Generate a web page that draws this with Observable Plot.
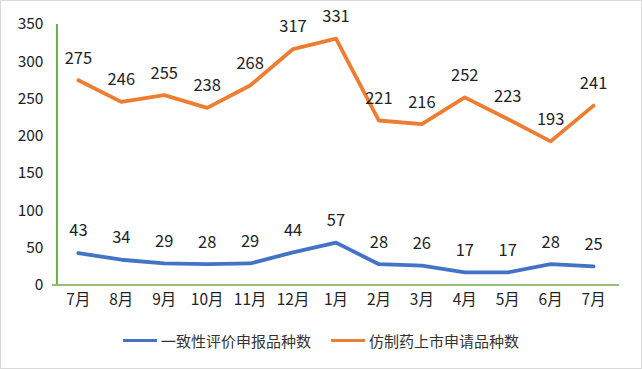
<!DOCTYPE html>
<html>
<head>
<meta charset="utf-8">
<script src="https://cdn.jsdelivr.net/npm/d3@7"></script>
<script src="https://cdn.jsdelivr.net/npm/@observablehq/plot@0.6"></script>
<style>
  body { margin: 0; background: #fff; font-family: "Noto Sans CJK SC", "Noto Sans", sans-serif; }
  #frame { position: relative; width: 640px; height: 367px; border: 1px solid #d9d9d9; overflow: hidden; }
  #chart { position: absolute; left: -1px; top: -1px; }
  #legend { position: absolute; left: 0; top: 329px; width: 640px; display: flex; justify-content: center; gap: 20px; font-size: 15px; color: #333; }
  .item { display: flex; align-items: center; gap: 4px; }
  .sw { width: 34px; height: 3.5px; display: inline-block; }
</style>
</head>
<body>
<div id="frame"><div id="chart"></div><div id="legend"></div></div>
<script>
const months = ["7月","8月","9月","10月","11月","12月","1月","2月","3月","4月","5月","6月","7月"];
const consistency = [43,34,29,28,29,44,57,28,26,17,17,28,25];
const generic = [275,246,255,238,268,317,331,221,216,252,223,193,241];
const seriesNames = ["一致性评价申报品种数","仿制药上市申请品种数"];
const colors = ["#4472c4","#ed7d31"];
const yTicks = [0,50,100,150,200,250,300,350];

const keys = months.map((m, i) => i + ":" + m);
const data = [];
[consistency, generic].forEach((arr, s) => arr.forEach((v, i) => data.push({key: keys[i], series: seriesNames[s], value: v})));

const plot = Plot.plot({
  width: 642,
  height: 320,
  marginTop: 24,
  marginBottom: 35,
  marginLeft: 52,
  marginRight: 22,
  style: {fontFamily: '"Noto Sans CJK SC", sans-serif', fontSize: "15.5px", color: "#222", background: "transparent"},
  x: {type: "point", domain: keys, padding: 0.5, tickFormat: k => k.split(":")[1], tickSize: 0, tickPadding: 9, label: null},
  y: {domain: [0, 350], ticks: yTicks, tickSize: 0, tickPadding: 9, label: null},
  color: {domain: seriesNames, range: colors},
  marks: [
    Plot.ruleX([keys[0]], {stroke: "#70ad47", strokeWidth: 2, dx: -21.5}),
    Plot.ruleY([0], {stroke: "#70ad47", strokeWidth: 1.5}),
    Plot.line(data, {x: "key", y: "value", z: "series", stroke: "series", strokeWidth: 3.8, strokeLinejoin: "round"}),
    Plot.text(data, {x: "key", y: "value", text: "value", dy: -22, fontSize: 16.5, fill: "#222"})
  ]
});
document.getElementById("chart").appendChild(plot);

const legend = document.getElementById("legend");
seriesNames.forEach((n, i) => {
  const it = document.createElement("div");
  it.className = "item";
  it.innerHTML = `<span class="sw" style="background:${colors[i]}"></span><span>${n}</span>`;
  legend.appendChild(it);
});
</script>
</body>
</html>
